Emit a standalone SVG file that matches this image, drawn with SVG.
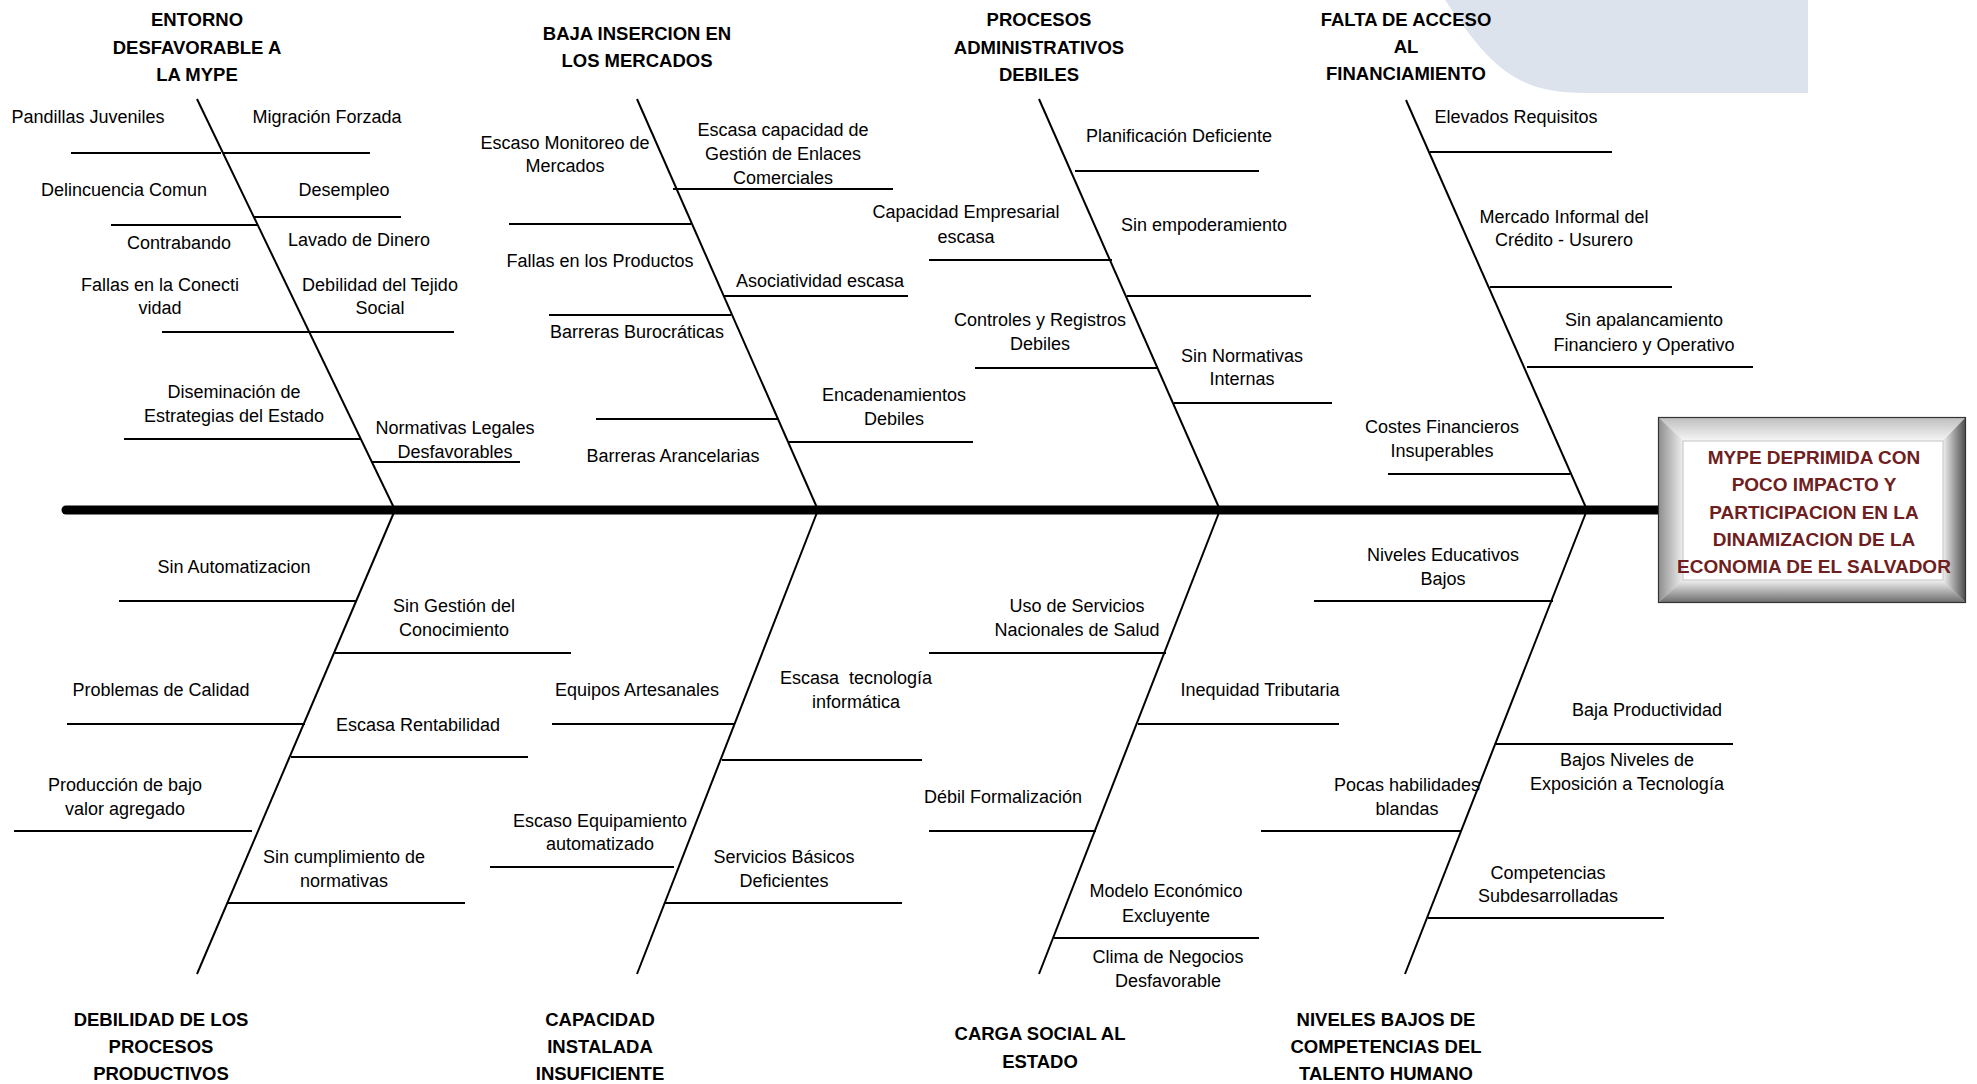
<svg xmlns="http://www.w3.org/2000/svg" width="1977" height="1084" viewBox="0 0 1977 1084">
<style>
  .t { font-family: "Liberation Sans", Arial, sans-serif; font-size: 18px; fill: #000; text-anchor: middle; }
  .h { font-family: "Liberation Sans", Arial, sans-serif; font-size: 18.5px; font-weight: bold; fill: #000; text-anchor: middle; }
  .e { font-family: "Liberation Sans", Arial, sans-serif; font-size: 19px; font-weight: bold; fill: #6E2020; text-anchor: middle; }
  .bone { stroke: #000; stroke-width: 2; fill: none; }
  .br { stroke: #000; stroke-width: 2; fill: none; }
  .spine { stroke: #000; stroke-width: 9; stroke-linecap: round; fill: none; }
</style>
<defs>
  <linearGradient id="gTop" x1="0" y1="0" x2="0" y2="1"><stop offset="0" stop-color="#bdbdbd"/><stop offset="1" stop-color="#f6f6f6"/></linearGradient>
  <linearGradient id="gBot" x1="0" y1="0" x2="0" y2="1"><stop offset="0" stop-color="#f2f2f2"/><stop offset="1" stop-color="#6a6a6a"/></linearGradient>
  <linearGradient id="gLeft" x1="0" y1="0" x2="1" y2="0"><stop offset="0" stop-color="#8c8c8c"/><stop offset="1" stop-color="#efefef"/></linearGradient>
  <linearGradient id="gRight" x1="0" y1="0" x2="1" y2="0"><stop offset="0" stop-color="#f0f0f0"/><stop offset="1" stop-color="#4a4a4a"/></linearGradient>
</defs>
<rect x="0" y="0" width="1977" height="1084" fill="#fff"/>
<path d="M1445,0 C1490,66 1515,93 1585,93 L1808,93 L1808,0 Z" fill="#DCE3ED"/>

<g id="connectors">
  <line class="spine" x1="66" y1="510" x2="1664" y2="510"/>
  <line class="bone" x1="197" y1="99" x2="395" y2="510"/>
  <line class="bone" x1="637" y1="99" x2="818" y2="510"/>
  <line class="bone" x1="1039" y1="99" x2="1220" y2="510"/>
  <line class="bone" x1="1406" y1="100" x2="1587" y2="510"/>
  <line class="bone" x1="395" y1="510" x2="197" y2="974"/>
  <line class="bone" x1="818" y1="510" x2="637" y2="974"/>
  <line class="bone" x1="1220" y1="510" x2="1039" y2="974"/>
  <line class="bone" x1="1587" y1="510" x2="1405" y2="974"/>
  <!-- bone 1 branches -->
  <line class="br" x1="71" y1="153" x2="221" y2="153"/>
  <line class="br" x1="223" y1="153" x2="370" y2="153"/>
  <line class="br" x1="111" y1="225" x2="257" y2="225"/>
  <line class="br" x1="254" y1="217" x2="401" y2="217"/>
  <line class="br" x1="162" y1="332" x2="454" y2="332"/>
  <line class="br" x1="124" y1="439" x2="361" y2="439"/>
  <line class="br" x1="371" y1="462" x2="520" y2="462"/>
  <!-- bone 2 branches -->
  <line class="br" x1="673" y1="189" x2="893" y2="189"/>
  <line class="br" x1="509" y1="224" x2="691" y2="224"/>
  <line class="br" x1="723" y1="296" x2="908" y2="296"/>
  <line class="br" x1="549" y1="315" x2="731" y2="315"/>
  <line class="br" x1="596" y1="419" x2="778" y2="419"/>
  <line class="br" x1="789" y1="442" x2="973" y2="442"/>
  <!-- bone 3 branches -->
  <line class="br" x1="1075" y1="171" x2="1259" y2="171"/>
  <line class="br" x1="929" y1="260" x2="1112" y2="260"/>
  <line class="br" x1="1127" y1="296" x2="1311" y2="296"/>
  <line class="br" x1="975" y1="368" x2="1158" y2="368"/>
  <line class="br" x1="1174" y1="403" x2="1332" y2="403"/>
  <!-- bone 4 branches -->
  <line class="br" x1="1430" y1="152" x2="1612" y2="152"/>
  <line class="br" x1="1490" y1="287" x2="1672" y2="287"/>
  <line class="br" x1="1527" y1="367" x2="1753" y2="367"/>
  <line class="br" x1="1388" y1="474" x2="1570" y2="474"/>
  <!-- bone 5 branches -->
  <line class="br" x1="119" y1="601" x2="356" y2="601"/>
  <line class="br" x1="335" y1="653" x2="571" y2="653"/>
  <line class="br" x1="67" y1="724" x2="305" y2="724"/>
  <line class="br" x1="291" y1="757" x2="528" y2="757"/>
  <line class="br" x1="14" y1="831" x2="252" y2="831"/>
  <line class="br" x1="228" y1="903" x2="465" y2="903"/>
  <!-- bone 6 branches -->
  <line class="br" x1="552" y1="724" x2="735" y2="724"/>
  <line class="br" x1="722" y1="760" x2="922" y2="760"/>
  <line class="br" x1="490" y1="867" x2="674" y2="867"/>
  <line class="br" x1="665" y1="903" x2="902" y2="903"/>
  <!-- bone 7 branches -->
  <line class="br" x1="929" y1="653" x2="1166" y2="653"/>
  <line class="br" x1="1138" y1="724" x2="1339" y2="724"/>
  <line class="br" x1="929" y1="831" x2="1096" y2="831"/>
  <line class="br" x1="1054" y1="938" x2="1259" y2="938"/>
  <!-- bone 8 branches -->
  <line class="br" x1="1314" y1="601" x2="1553" y2="601"/>
  <line class="br" x1="1496" y1="744" x2="1733" y2="744"/>
  <line class="br" x1="1261" y1="831" x2="1461" y2="831"/>
  <line class="br" x1="1428" y1="918" x2="1664" y2="918"/>
</g>

<g id="effect">
  <rect x="1658" y="417" width="308" height="186" fill="#d0d0d0"/>
  <polygon points="1658,417 1966,417 1943,441 1683,441" fill="url(#gTop)"/>
  <polygon points="1658,603 1683,580 1943,580 1966,603" fill="url(#gBot)"/>
  <polygon points="1658,417 1683,441 1683,580 1658,603" fill="url(#gLeft)"/>
  <polygon points="1966,417 1943,441 1943,580 1966,603" fill="url(#gRight)"/>
  <rect x="1683" y="441" width="260" height="139" fill="#fff" stroke="#c4c4c4" stroke-width="1"/>
  <rect x="1658.5" y="417.5" width="307" height="185" fill="none" stroke="#333" stroke-width="1.2"/>
  <text class="e" x="1814"><tspan x="1814" y="464">MYPE DEPRIMIDA CON</tspan><tspan x="1814" y="491">POCO IMPACTO Y</tspan><tspan x="1814" y="519">PARTICIPACION EN LA</tspan><tspan x="1814" y="546">DINAMIZACION DE LA</tspan><tspan x="1814" y="573">ECONOMIA DE EL SALVADOR</tspan></text>
</g>

<g id="cat-entorno"><text class="h"><tspan x="197" y="26">ENTORNO</tspan><tspan x="197" y="54">DESFAVORABLE A</tspan><tspan x="197" y="81">LA MYPE</tspan></text></g>
<g id="cat-baja-insercion"><text class="h"><tspan x="637" y="40">BAJA INSERCION EN</tspan><tspan x="637" y="67">LOS MERCADOS</tspan></text></g>
<g id="cat-procesos-admin"><text class="h"><tspan x="1039" y="26">PROCESOS</tspan><tspan x="1039" y="54">ADMINISTRATIVOS</tspan><tspan x="1039" y="81">DEBILES</tspan></text></g>
<g id="cat-financiamiento"><text class="h"><tspan x="1406" y="26">FALTA DE ACCESO</tspan><tspan x="1406" y="53">AL</tspan><tspan x="1406" y="80">FINANCIAMIENTO</tspan></text></g>
<g id="cat-procesos-productivos"><text class="h"><tspan x="161" y="1026">DEBILIDAD DE LOS</tspan><tspan x="161" y="1053">PROCESOS</tspan><tspan x="161" y="1080">PRODUCTIVOS</tspan></text></g>
<g id="cat-capacidad"><text class="h"><tspan x="600" y="1026">CAPACIDAD</tspan><tspan x="600" y="1053">INSTALADA</tspan><tspan x="600" y="1080">INSUFICIENTE</tspan></text></g>
<g id="cat-carga-social"><text class="h"><tspan x="1040" y="1040">CARGA SOCIAL AL</tspan><tspan x="1040" y="1068">ESTADO</tspan></text></g>
<g id="cat-talento"><text class="h"><tspan x="1386" y="1026">NIVELES BAJOS DE</tspan><tspan x="1386" y="1053">COMPETENCIAS DEL</tspan><tspan x="1386" y="1080">TALENTO HUMANO</tspan></text></g>

<g id="c-pandillas"><text class="t" x="88" y="123">Pandillas Juveniles</text></g>
<g id="c-migracion"><text class="t" x="327" y="123">Migración Forzada</text></g>
<g id="c-delincuencia"><text class="t" x="124" y="196">Delincuencia Comun</text></g>
<g id="c-desempleo"><text class="t" x="344" y="196">Desempleo</text></g>
<g id="c-contrabando"><text class="t" x="179" y="249">Contrabando</text></g>
<g id="c-lavado"><text class="t" x="359" y="246">Lavado de Dinero</text></g>
<g id="c-conectividad"><text class="t"><tspan x="160" y="291">Fallas en la Conecti</tspan><tspan x="160" y="314">vidad</tspan></text></g>
<g id="c-tejido"><text class="t"><tspan x="380" y="291">Debilidad del Tejido</tspan><tspan x="380" y="314">Social</tspan></text></g>
<g id="c-diseminacion"><text class="t"><tspan x="234" y="398">Diseminación de</tspan><tspan x="234" y="422">Estrategias del Estado</tspan></text></g>
<g id="c-normativas-legales"><text class="t"><tspan x="455" y="434">Normativas Legales</tspan><tspan x="455" y="458">Desfavorables</tspan></text></g>

<g id="c-monitoreo"><text class="t"><tspan x="565" y="149">Escaso Monitoreo de</tspan><tspan x="565" y="172">Mercados</tspan></text></g>
<g id="c-enlaces"><text class="t"><tspan x="783" y="136">Escasa capacidad de</tspan><tspan x="783" y="160">Gestión de Enlaces</tspan><tspan x="783" y="184">Comerciales</tspan></text></g>
<g id="c-productos"><text class="t" x="600" y="267">Fallas en los Productos</text></g>
<g id="c-asociatividad"><text class="t" x="820" y="287">Asociatividad escasa</text></g>
<g id="c-burocraticas"><text class="t" x="637" y="338">Barreras Burocráticas</text></g>
<g id="c-encadenamientos"><text class="t"><tspan x="894" y="401">Encadenamientos</tspan><tspan x="894" y="425">Debiles</tspan></text></g>
<g id="c-arancelarias"><text class="t" x="673" y="462">Barreras Arancelarias</text></g>

<g id="c-planificacion"><text class="t" x="1179" y="142">Planificación Deficiente</text></g>
<g id="c-capacidad-empresarial"><text class="t"><tspan x="966" y="218">Capacidad Empresarial</tspan><tspan x="966" y="243">escasa</tspan></text></g>
<g id="c-empoderamiento"><text class="t" x="1204" y="231">Sin empoderamiento</text></g>
<g id="c-controles"><text class="t"><tspan x="1040" y="326">Controles y Registros</tspan><tspan x="1040" y="350">Debiles</tspan></text></g>
<g id="c-normativas-internas"><text class="t"><tspan x="1242" y="362">Sin Normativas</tspan><tspan x="1242" y="385">Internas</tspan></text></g>

<g id="c-requisitos"><text class="t" x="1516" y="123">Elevados Requisitos</text></g>
<g id="c-usurero"><text class="t"><tspan x="1564" y="223">Mercado Informal del</tspan><tspan x="1564" y="246">Crédito - Usurero</tspan></text></g>
<g id="c-apalancamiento"><text class="t"><tspan x="1644" y="326">Sin apalancamiento</tspan><tspan x="1644" y="351">Financiero y Operativo</tspan></text></g>
<g id="c-costes"><text class="t"><tspan x="1442" y="433">Costes Financieros</tspan><tspan x="1442" y="457">Insuperables</tspan></text></g>

<g id="c-automatizacion"><text class="t" x="234" y="573">Sin Automatizacion</text></g>
<g id="c-conocimiento"><text class="t"><tspan x="454" y="612">Sin Gestión del</tspan><tspan x="454" y="636">Conocimiento</tspan></text></g>
<g id="c-calidad"><text class="t" x="161" y="696">Problemas de Calidad</text></g>
<g id="c-rentabilidad"><text class="t" x="418" y="731">Escasa Rentabilidad</text></g>
<g id="c-valor-agregado"><text class="t"><tspan x="125" y="791">Producción de bajo</tspan><tspan x="125" y="815">valor agregado</tspan></text></g>
<g id="c-cumplimiento"><text class="t"><tspan x="344" y="863">Sin cumplimiento de</tspan><tspan x="344" y="887">normativas</tspan></text></g>

<g id="c-artesanales"><text class="t" x="637" y="696">Equipos Artesanales</text></g>
<g id="c-tecnologia-info"><text class="t" xml:space="preserve"><tspan x="856" y="684">Escasa  tecnología</tspan><tspan x="856" y="708">informática</tspan></text></g>
<g id="c-equipamiento"><text class="t"><tspan x="600" y="827">Escaso Equipamiento</tspan><tspan x="600" y="850">automatizado</tspan></text></g>
<g id="c-servicios-basicos"><text class="t"><tspan x="784" y="863">Servicios Básicos</tspan><tspan x="784" y="887">Deficientes</tspan></text></g>

<g id="c-salud"><text class="t"><tspan x="1077" y="612">Uso de Servicios</tspan><tspan x="1077" y="636">Nacionales de Salud</tspan></text></g>
<g id="c-tributaria"><text class="t" x="1260" y="696">Inequidad Tributaria</text></g>
<g id="c-formalizacion"><text class="t" x="1003" y="803">Débil Formalización</text></g>
<g id="c-modelo"><text class="t"><tspan x="1166" y="897">Modelo Económico</tspan><tspan x="1166" y="922">Excluyente</tspan></text></g>
<g id="c-clima"><text class="t"><tspan x="1168" y="963">Clima de Negocios</tspan><tspan x="1168" y="987">Desfavorable</tspan></text></g>

<g id="c-educativos"><text class="t"><tspan x="1443" y="561">Niveles Educativos</tspan><tspan x="1443" y="585">Bajos</tspan></text></g>
<g id="c-productividad"><text class="t" x="1647" y="716">Baja Productividad</text></g>
<g id="c-exposicion"><text class="t"><tspan x="1627" y="766">Bajos Niveles de</tspan><tspan x="1627" y="790">Exposición a Tecnología</tspan></text></g>
<g id="c-habilidades"><text class="t"><tspan x="1407" y="791">Pocas habilidades</tspan><tspan x="1407" y="815">blandas</tspan></text></g>
<g id="c-competencias"><text class="t"><tspan x="1548" y="879">Competencias</tspan><tspan x="1548" y="902">Subdesarrolladas</tspan></text></g>
</svg>
